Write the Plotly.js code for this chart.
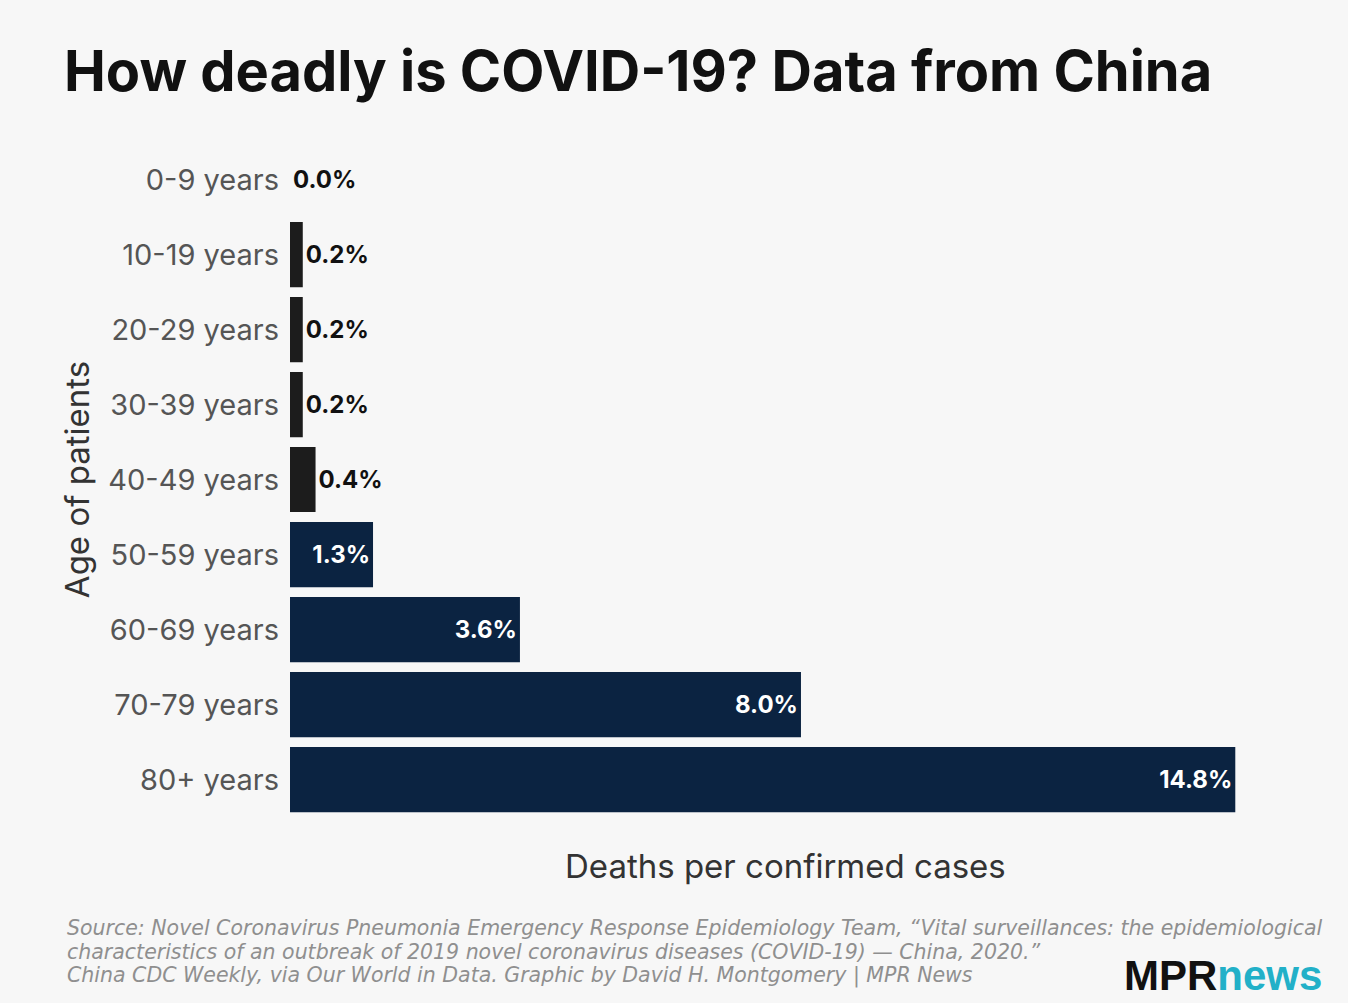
<!DOCTYPE html>
<html>
<head>
<meta charset="utf-8">
<script src="https://cdn.plot.ly/plotly-3.0.1.min.js"></script>
<style>
  html, body { margin: 0; padding: 0; background: #f7f7f7; overflow: hidden; }
  #chart { width: 1348px; height: 1003px; }
</style>
</head>
<body>
<div id="chart"></div>
<script>
// Data
var ageGroups = ["0-9 years", "10-19 years", "20-29 years", "30-39 years", "40-49 years",
                 "50-59 years", "60-69 years", "70-79 years", "80+ years"];
var fatalityRate = [0.0, 0.2, 0.2, 0.2, 0.4, 1.3, 3.6, 8.0, 14.8];
var valueLabels = ["0.0%", "0.2%", "0.2%", "0.2%", "0.4%", "1.3%", "3.6%", "8.0%", "14.8%"];

var titleText = "How deadly is COVID-19? Data from China";
var xTitleText = "Deaths per confirmed cases";
var yTitleText = "Age of patients";
var sourceLines = [
  "Source: Novel Coronavirus Pneumonia Emergency Response Epidemiology Team, \u201cVital surveillances: the epidemiological",
  "characteristics of an outbreak of 2019 novel coronavirus diseases (COVID-19) \u2014 China, 2020.\u201d",
  "China CDC Weekly, via Our World in Data. Graphic by David H. Montgomery | MPR News"
];

var FONT = "Inter, 'DejaVu Sans', sans-serif";

// Styling derived from values
var barColors = fatalityRate.map(function (v) { return v >= 1 ? "#0b2341" : "#1c1c1c"; });
var textPos = fatalityRate.map(function (v) { return v >= 1 ? "inside" : "outside"; });
var textColors = fatalityRate.map(function (v) { return v >= 1 ? "#ffffff" : "#111111"; });

var trace = {
  type: "bar",
  orientation: "h",
  y: ageGroups,
  x: fatalityRate,
  text: valueLabels,
  textposition: textPos,
  insidetextanchor: "end",
  textangle: 0,
  textfont: { family: FONT, size: 24, color: textColors, weight: 700 },
  outsidetextfont: { family: FONT, size: 24, color: "#111111", weight: 700 },
  insidetextfont: { family: FONT, size: 24, color: "#ffffff", weight: 700 },
  marker: { color: barColors, line: { width: 0 } },
  cliponaxis: false,
  hoverinfo: "skip"
};

var plotTop = 142, plotBottom = 817, plotH = plotBottom - plotTop;
function py(pix) { return (plotBottom - pix) / plotH; }
var plotLeft = 290, plotRight = 1280, plotW = plotRight - plotLeft;
function px(pix) { return (pix - plotLeft) / plotW; }

var annotations = [
  {
    text: xTitleText, xref: "paper", yref: "paper", x: px(785), y: py(866),
    xanchor: "center", yanchor: "middle", showarrow: false,
    font: { family: FONT, size: 33, color: "#333333" }
  },
  {
    text: "<b>MPR</b><b><span style='color:#22b0c8'>news</span></b>", xref: "paper", yref: "paper",
    x: px(1324), y: py(975), xanchor: "right", yanchor: "middle", showarrow: false,
    font: { family: "'Liberation Sans', Arial, sans-serif", size: 42, color: "#111111" }
  }
];
var sourceY = [928, 952, 975];
sourceLines.forEach(function (line, i) {
  annotations.push({
    text: line, xref: "paper", yref: "paper", x: px(65), y: py(sourceY[i]),
    xanchor: "left", yanchor: "middle", align: "left", showarrow: false,
    font: { family: "'DejaVu Sans', sans-serif", size: 20.5, color: "#8f8f8f", style: "italic" }
  });
});

var layout = {
  width: 1348,
  height: 1003,
  paper_bgcolor: "#f7f7f7",
  plot_bgcolor: "#f7f7f7",
  margin: { l: plotLeft, r: 1348 - plotRight, t: plotTop, b: 1003 - plotBottom },
  title: {
    text: "<b>" + titleText + "</b>",
    xref: "container", yref: "container",
    x: 64 / 1348, xanchor: "left",
    y: 1 - 71 / 1003, yanchor: "middle",
    font: { family: FONT, size: 56, color: "#111111" }
  },
  bargap: 0.13,
  showlegend: false,
  xaxis: {
    range: [0, 15.5],
    showgrid: false, zeroline: false, showticklabels: false, ticks: "", showline: false,
    fixedrange: true
  },
  yaxis: {
    autorange: "reversed",
    showgrid: false, zeroline: false, showline: false, ticks: "",
    ticklabelstandoff: 10,
    tickfont: { family: FONT, size: 29, color: "#555555" },
    title: {
      text: yTitleText, standoff: 8,
      font: { family: FONT, size: 33, color: "#333333" }
    },
    fixedrange: true
  },
  annotations: annotations
};

Plotly.newPlot("chart", [trace], layout, { displayModeBar: false, staticPlot: true });
</script>
</body>
</html>
